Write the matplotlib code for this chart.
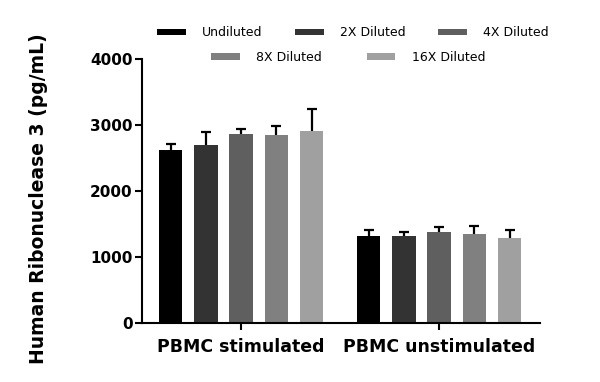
import matplotlib

matplotlib.use("Agg")

import matplotlib.pyplot as plt
import numpy as np

groups = ["PBMC stimulated", "PBMC unstimulated"]
series = ["Undiluted", "2X Diluted", "4X Diluted", "8X Diluted", "16X Diluted"]
means = [
    [2615, 1312],
    [2697, 1318],
    [2858, 1379],
    [2843, 1343],
    [2903, 1288],
]
errors = [
    [97, 91],
    [201, 55],
    [86, 70],
    [146, 131],
    [344, 121],
]
colors = ["#000000", "#333333", "#5f5f5f", "#808080", "#a0a0a0"]

plt.rcParams["font.family"] = ["DejaVu Sans"]

fig = plt.figure(figsize=(6, 3.82), dpi=100)
ax = fig.add_axes([0.237, 0.1545, 0.663, 0.691])

x = np.arange(len(groups))
step = 0.178
width = 0.118
handles = []
for i, name in enumerate(series):
    pos = x + (i - 2) * step
    bars = ax.bar(pos, means[i], width=width, color=colors[i], label=name, zorder=2)
    _, caps, _ = ax.errorbar(
        pos,
        means[i],
        yerr=[np.zeros(len(groups)), errors[i]],
        fmt="none",
        ecolor="black",
        elinewidth=1.6,
        capsize=3.6,
        capthick=1.6,
        zorder=1,
    )
    # only the upper whisker is shown
    caps[0].set_visible(False)
    handles.append(bars)

ax.set_xlim(-0.5, 1.51)
ax.set_ylim(0, 4000)
ax.set_yticks([0, 1000, 2000, 3000, 4000])
ax.set_xticks(x)
ax.set_xticklabels(groups, fontsize=12.5, fontweight="bold")
for lab in ax.get_yticklabels():
    lab.set_fontsize(11)
    lab.set_fontweight("bold")

ax.set_ylabel("Human Ribonuclease 3 (pg/mL)", fontsize=13.5, fontweight="bold")
ax.yaxis.set_label_coords(-0.238, 0.47)

for side in ["top", "right"]:
    ax.spines[side].set_visible(False)
for side in ["left", "bottom"]:
    ax.spines[side].set_linewidth(1.5)
ax.tick_params(axis="both", width=1.5, length=5, direction="out", pad=2)
ax.tick_params(axis="x", pad=6)

common = dict(
    frameon=False,
    fontsize=9,
    handlelength=2.3,
    handleheight=0.45,
    handletextpad=1.3,
    loc="center",
)
leg1 = fig.legend(
    handles[:3], series[:3], ncol=3, columnspacing=2.6,
    bbox_to_anchor=(0.588, 0.914), **common
)
leg2 = fig.legend(
    handles[3:], series[3:], ncol=2, columnspacing=3.6,
    bbox_to_anchor=(0.58, 0.85), **common
)

fig.savefig("out.png", dpi=100)
